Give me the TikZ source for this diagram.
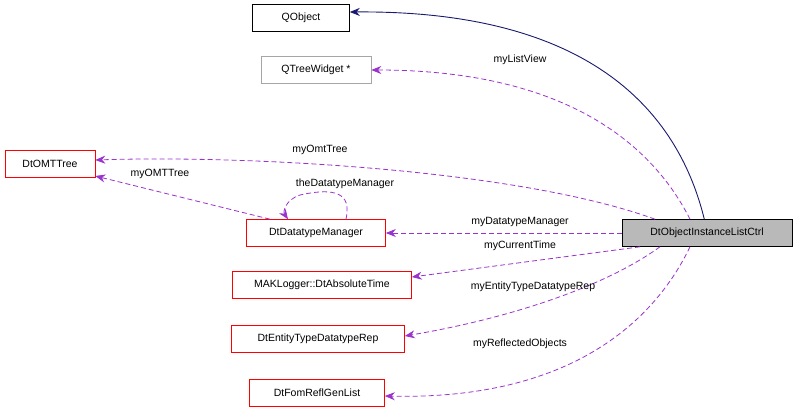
\documentclass[tikz,border=0pt]{standalone}
\usepackage{fontspec}
\setmainfont{Liberation Sans}
\usetikzlibrary{arrows.meta}
\definecolor{dxpurple}{HTML}{9A32CD}
\definecolor{dxnavy}{HTML}{191970}
\begin{document}
\begin{tikzpicture}[x=1pt,y=-1pt,font=\fontsize{10.5}{12}\selectfont,
  box/.style={draw=red,line width=0.6pt,minimum height=27pt,inner xsep=5pt,fill=white},
  rel/.style={dxpurple,dashed,dash pattern=on 5pt off 3pt,line width=0.8pt,-{Stealth[length=10pt,width=8pt]}},
  inh/.style={dxnavy,line width=0.9pt,-{Stealth[length=10pt,width=8pt]}},
  lbl/.style={font=\fontsize{10.5}{12}\selectfont,inner sep=1pt}]
\useasboundingbox (0,0) rectangle (797,413);
\node[box,draw=black,minimum width=97pt] (qo) at (301,18) {QObject};
\node[box,draw=gray!70,minimum width=110pt] (qt) at (316,70) {QTreeWidget *};
\node[box,minimum width=90pt] (omt) at (50,164) {DtOMTTree};
\node[box,minimum width=139pt] (dm) at (316,233) {DtDatatypeManager};
\node[box,draw=black,fill=gray!55,minimum width=170pt] (ctl) at (707,233) {DtObjectInstanceListCtrl};
\node[box,minimum width=179pt] (mak) at (322,285) {MAKLogger::DtAbsoluteTime};
\node[box,minimum width=173pt] (ent) at (318,339) {DtEntityTypeDatatypeRep};
\node[box,minimum width=135pt] (fom) at (317,393) {DtFomReflGenList};

\draw[inh] (ctl.north east) ++(-88,0) .. controls (680,120) and (600,10) .. (qo.east |- 0,12);
\draw[rel] ([xshift=-17pt]ctl.north) .. controls (650,140) and (560,70) .. (qt.east);
\node[lbl] (l1) at (520,60) {myListView};
\draw[rel] ([xshift=-52pt]ctl.north) .. controls (520,170) and (250,155) .. (omt.east |- 0,160);
\node[lbl] (l2) at (320,150) {myOmtTree};
\draw[rel] ([xshift=-46pt]dm.north) -- (omt.east |- 0,176);
\node[lbl] (l3) at (160,174) {myOMTTree};
\draw[rel] ([xshift=30pt]dm.north) .. controls (350,200) and (345,185) .. (300,195) .. controls (285,200) and (283,212) .. ([xshift=-28pt]dm.north);
\node[lbl] (l4) at (345,184) {theDatatypeManager};
\draw[rel] (ctl.west) -- (dm.east);
\node[lbl] (l5) at (520,222) {myDatatypeManager};
\draw[rel] ([xshift=-67pt]ctl.south) -- (mak.east |- 0,277);
\node[lbl] (l6) at (520,246) {myCurrentTime};
\draw[rel] ([xshift=-47pt]ctl.south) .. controls (600,290) and (500,320) .. (ent.east |- 0,336);
\node[lbl] (l7) at (533,287) {myEntityTypeDatatypeRep};
\draw[rel] ([xshift=-17pt]ctl.south) .. controls (650,330) and (560,400) .. (fom.east |- 0,396);
\node[lbl] (l8) at (520,344) {myReflectedObjects};
\end{tikzpicture}
\end{document}
